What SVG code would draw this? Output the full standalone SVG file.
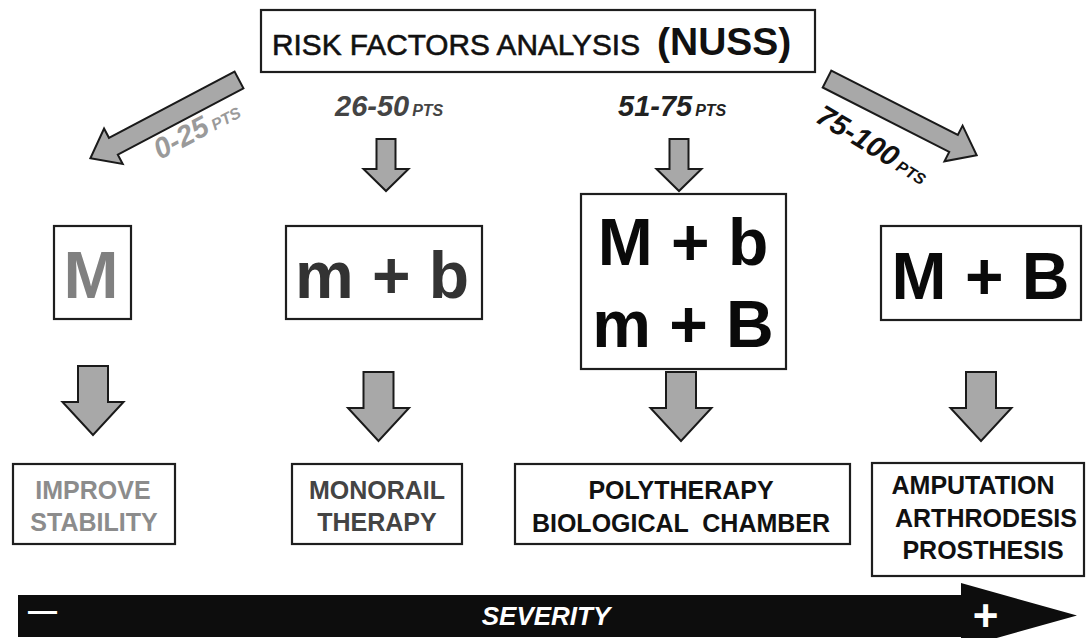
<svg xmlns="http://www.w3.org/2000/svg" xmlns:xlink="http://www.w3.org/1999/xlink" width="1087" height="638" viewBox="0 0 1087 638">
<style>
text{font-family:"Liberation Sans",Arial,sans-serif;}
.box{fill:#fff;stroke:#1e1e1e;stroke-width:2.2;}
.arr{fill:#a8a8a8;stroke:#1a1a1a;stroke-width:2;stroke-linejoin:miter;}
.big{font-size:66px;font-weight:bold;text-anchor:middle;}
.sm{font-size:25px;font-weight:bold;text-anchor:middle;}
.pts{font-weight:bold;font-style:italic;}
</style>
<defs>
<path id="downS" d="M-9.5,0 H9.5 V30 H22.5 L0,52 L-22.5,30 H-9.5 Z"/>
<path id="downB" d="M-15,0 H15 V36 H30.5 L0,69 L-30.5,36 H-15 Z"/>
<path id="diag" d="M0,-9.5 H142 V-20 L168,0 L142,20 V9.5 H0 Z"/>
</defs>
<rect width="1087" height="638" fill="#fff"/>

<g id="title">
<rect class="box" x="261" y="10" width="554" height="62"/>
<text x="272" y="55" font-size="30" fill="#111" stroke="#111" stroke-width="0.6" textLength="368" lengthAdjust="spacingAndGlyphs">RISK FACTORS ANALYSIS</text>
<text x="657" y="55" font-size="39" font-weight="bold" fill="#111">(NUSS)</text>
</g>

<g id="connectors">
<use xlink:href="#diag" class="arr" transform="translate(239,80) rotate(152.2)"/>
<use xlink:href="#downS" class="arr" transform="translate(386,139)"/>
<use xlink:href="#downS" class="arr" transform="translate(679,139)"/>
<use xlink:href="#diag" class="arr" transform="translate(827,79) rotate(27)"/>
<use xlink:href="#downB" class="arr" transform="translate(93,366)"/>
<use xlink:href="#downB" class="arr" transform="translate(378.5,372)"/>
<use xlink:href="#downB" class="arr" transform="translate(681,372)"/>
<use xlink:href="#downB" class="arr" transform="translate(981,372)"/>
</g>

<g id="labels">
<text class="pts" fill="#9a9a9a" transform="translate(160,160) rotate(-28)"><tspan font-size="29">0-25</tspan><tspan font-size="16" dx="4">PTS</tspan></text>
<text class="pts" fill="#444" x="335" y="116"><tspan font-size="29">26-50</tspan><tspan font-size="16" dx="3">PTS</tspan></text>
<text class="pts" fill="#222" x="618" y="116"><tspan font-size="29">51-75</tspan><tspan font-size="16" dx="3">PTS</tspan></text>
<text class="pts" fill="#111" transform="translate(814,121) rotate(31)"><tspan font-size="29">75-100</tspan><tspan font-size="16" dx="4">PTS</tspan></text>
</g>

<g id="node-M">
<rect class="box" x="54" y="226" width="77" height="93"/>
<text class="big" x="91" y="298" fill="#808080">M</text>
</g>
<g id="node-mb">
<rect class="box" x="286" y="226" width="196" height="93"/>
<text class="big" x="382" y="298" fill="#333">m + b</text>
</g>
<g id="node-Mb-mB">
<rect class="box" x="581" y="194" width="205" height="175"/>
<text class="big" x="683" y="265" fill="#0a0a0a">M + b</text>
<text class="big" x="683" y="347" fill="#0a0a0a">m + B</text>
</g>
<g id="node-MB">
<rect class="box" x="881" y="226" width="200" height="94"/>
<text class="big" x="980.5" y="299" fill="#0a0a0a">M + B</text>
</g>

<g id="node-improve">
<rect class="box" x="13" y="464" width="162" height="80"/>
<text class="sm" fill="#8c8c8c"><tspan x="93" y="499">IMPROVE</tspan><tspan x="94" y="531">STABILITY</tspan></text>
</g>
<g id="node-monorail">
<rect class="box" x="292" y="464" width="170" height="80"/>
<text class="sm" fill="#444"><tspan x="377" y="499">MONORAIL</tspan><tspan x="377" y="531">THERAPY</tspan></text>
</g>
<g id="node-poly">
<rect class="box" x="515" y="464" width="335" height="80"/>
<text class="sm" fill="#111" style="white-space:pre"><tspan x="681" y="499">POLYTHERAPY</tspan><tspan x="681" y="532">BIOLOGICAL  CHAMBER</tspan></text>
</g>
<g id="node-amputation">
<rect class="box" x="872" y="463" width="212" height="113"/>
<text class="sm" fill="#111"><tspan x="973" y="494">AMPUTATION</tspan><tspan x="986" y="527">ARTHRODESIS</tspan><tspan x="983" y="559">PROSTHESIS</tspan></text>
</g>

<g id="severity">
<path d="M18,595 H961 V583 L1077,615.5 L961,648 V637 H18 Z" fill="#0d0d0d"/>
<text x="42.5" y="621" font-size="29" font-weight="bold" fill="#fff" text-anchor="middle">—</text>
<text x="546" y="625" font-size="26" font-weight="bold" font-style="italic" fill="#fff" text-anchor="middle">SEVERITY</text>
<text x="985.5" y="631" font-size="44" font-weight="bold" fill="#fff" text-anchor="middle">+</text>
</g>
</svg>
